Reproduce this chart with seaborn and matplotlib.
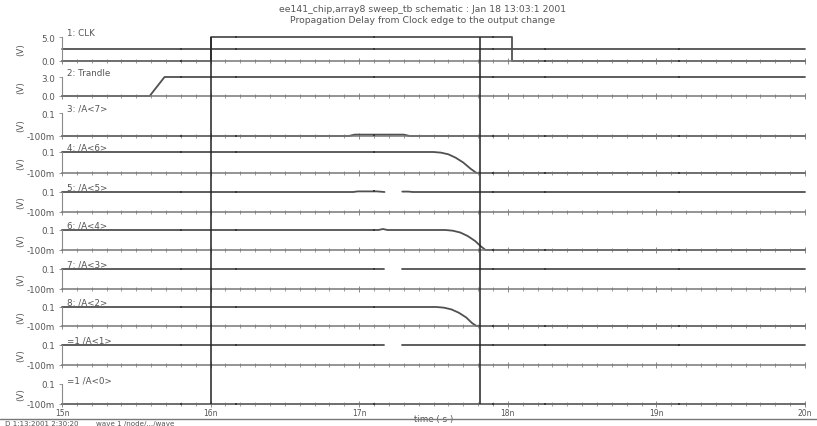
import numpy as np
import pandas as pd
import matplotlib
matplotlib.use("Agg")
import matplotlib.pyplot as plt
from matplotlib.lines import Line2D
from matplotlib.ticker import MultipleLocator, FuncFormatter
import seaborn as sns

sns.set_theme(style="white")
plt.rcParams['font.family'] = ['DejaVu Sans']

# ---- data (time in ns) ----
t_start, t_end = 15.0, 20.0
cursor_times = [16.0, 17.81]
marker_times = [15.8, 16.17, 17.1, 17.9, 18.25, 19.15]

names = ["1: CLK", "2: Trandle", "3: /A<7>", "4: /A<6>", "5: /A<5>",
         "6: /A<4>", "7: /A<3>", "8: /A<2>", "=1 /A<1>", "=1 /A<0>"]
ylo = [0.0, 0.0, -0.1, -0.1, -0.1, -0.1, -0.1, -0.1, -0.1, -0.1]
yhi = [5.0, 3.0, 0.1, 0.1, 0.1, 0.1, 0.1, 0.1, 0.1, 0.1]
ylo_lbl = ["0.0", "0.0", "-100m", "-100m", "-100m", "-100m", "-100m", "-100m", "-100m", "-100m"]
yhi_lbl = ["5.0", "3.0", "0.1", "0.1", "0.1", "0.1", "0.1", "0.1", "0.1", "0.1"]

clk_t = [15.0, 16.0, 16.0, 18.03, 18.03, 20.0]
clk_v = [0.0, 0.0, 5.0, 5.0, 0.0, 0.0]
clkref_t = [15.0, 20.0]
clkref_v = [2.5, 2.5]
trandle_t = [15.0, 15.59, 15.69, 20.0]
trandle_v = [0.0, 0.0, 3.0, 3.0]
a7_t = [15.0, 16.93, 16.97, 17.3, 17.34, 20.0]
a7_v = [-0.1, -0.1, -0.088, -0.088, -0.1, -0.1]
a6_t = [15.0, 17.5, 17.55, 17.6, 17.65, 17.7, 17.75, 17.79, 20.0]
a6_v = [0.1, 0.1, 0.094, 0.078, 0.045, 0.0, -0.06, -0.1, -0.1]
a5_t = [15.0, 16.96, 16.99, 17.12, 17.17, np.nan, 17.29, 17.33, 17.36, 20.0]
a5_v = [0.1, 0.1, 0.106, 0.106, 0.1, np.nan, 0.104, 0.104, 0.1, 0.1]
a4_t = [15.0, 17.13, 17.16, 17.19, 17.58, 17.63, 17.68, 17.73, 17.78, 17.82, 17.85, 20.0]
a4_v = [0.1, 0.1, 0.11, 0.1, 0.1, 0.093, 0.075, 0.04, -0.01, -0.065, -0.1, -0.1]
a3_t = [15.0, 17.17, np.nan, 17.29, 20.0]
a3_v = [0.1, 0.1, np.nan, 0.1, 0.1]
a2_t = [15.0, 17.52, 17.57, 17.62, 17.67, 17.72, 17.76, 17.79, 20.0]
a2_v = [0.1, 0.1, 0.093, 0.075, 0.04, -0.01, -0.07, -0.1, -0.1]
a1_t = [15.0, 17.17, np.nan, 17.29, 20.0]
a1_v = [0.1, 0.1, np.nan, 0.1, 0.1]
a0_t = [15.0, 20.0]
a0_v = [-0.1, -0.1]

traces = [[(clk_t, clk_v), (clkref_t, clkref_v)], [(trandle_t, trandle_v)],
          [(a7_t, a7_v)], [(a6_t, a6_v)], [(a5_t, a5_v)], [(a4_t, a4_v)],
          [(a3_t, a3_v)], [(a2_t, a2_v)], [(a1_t, a1_v)], [(a0_t, a0_v)]]

# strip extents in pixels (top of data, baseline)
strip_top = [38, 78, 114, 153, 193, 231, 270, 308, 346, 385]
strip_bot = [62, 97, 137, 174, 213, 251, 290, 327, 366, 405]

W, H = 817, 427
X0, X1 = 62, 805
fig = plt.figure(figsize=(W / 100, H / 100), dpi=100)

trace_col = "#505050"
axis_col = "#8a8a8a"
text_col = "#555555"
fs = 6.3


def to_frame(t, v):
    t = np.asarray(t, float)
    v = np.asarray(v, float)
    seg = np.cumsum(np.isnan(t))
    df = pd.DataFrame({"t": t, "v": v, "seg": seg}).dropna()
    return df


axes = []
for i, name in enumerate(names):
    top, bot = strip_top[i], strip_bot[i]
    ax = fig.add_axes([X0 / W, 1 - bot / H, (X1 - X0) / W, (bot - top) / H])
    ax.set_facecolor("none")
    for (t, v) in traces[i]:
        df = to_frame(t, v)
        sns.lineplot(data=df, x="t", y="v", units="seg", estimator=None, sort=False,
                     ax=ax, color=trace_col, lw=1.3, clip_on=False)
        # sampled markers on the trace
        good = df.sort_values("t")
        mv = np.interp(marker_times, good["t"], good["v"])
        sns.scatterplot(x=marker_times, y=mv, ax=ax, color="#3a3a3a", marker="s",
                        s=2.5, linewidth=0, clip_on=False, zorder=5)
    ax.set_xlim(t_start, t_end)
    ax.set_ylim(ylo[i], yhi[i])
    ax.set_yticks([ylo[i], yhi[i]])
    ax.set_yticklabels([ylo_lbl[i], yhi_lbl[i]], fontsize=fs, color=text_col)
    ax.xaxis.set_major_locator(MultipleLocator(1.0))
    ax.xaxis.set_minor_locator(MultipleLocator(0.1))
    ax.tick_params(axis="x", which="major", direction="inout", length=4, width=0.7,
                   color=axis_col, bottom=True)
    ax.tick_params(axis="x", which="minor", direction="inout", length=2.5, width=0.6,
                   color=axis_col, bottom=True)
    ax.tick_params(axis="y", direction="out", length=2, width=0.6, color=axis_col,
                   pad=3, left=True)
    for s in ["top", "right"]:
        ax.spines[s].set_visible(False)
    ax.spines["left"].set_color(axis_col)
    ax.spines["left"].set_linewidth(0.8)
    ax.spines["bottom"].set_color("#777777")
    ax.spines["bottom"].set_linewidth(1.1)
    ax.set_ylabel("(V)", fontsize=fs, color=text_col, rotation=90)
    ax.yaxis.set_label_coords(-0.05, 0.5)
    ax.set_xlabel("")
    ax.text(0.007, 1.0, name, transform=ax.transAxes, fontsize=fs, color=text_col,
            ha="left", va="bottom")
    if i < len(names) - 1:
        ax.tick_params(axis="x", labelbottom=False)
    else:
        ax.xaxis.set_major_formatter(FuncFormatter(lambda x, p: f"{x:g}n"))
        ax.tick_params(axis="x", labelsize=fs - 0.8, labelcolor=text_col, pad=1)
        ax.set_xlabel("time ( s )", fontsize=fs, color=text_col, labelpad=-2)
    axes.append(ax)

# cursor lines across all strips
ov = fig.add_axes([X0 / W, 1 - strip_bot[-1] / H, (X1 - X0) / W,
                   (strip_bot[-1] - strip_top[0]) / H])
ov.set_xlim(t_start, t_end)
ov.axis("off")
for c in cursor_times:
    ov.axvline(c, color="#222222", lw=1.1)

fig.text(0.517, 0.977, "ee141_chip,array8 sweep_tb schematic : Jan 18 13:03:1 2001",
         ha="center", va="center", fontsize=fs + 0.4, color=text_col)
fig.text(0.517, 0.952, "Propagation Delay from Clock edge to the output change",
         ha="center", va="center", fontsize=fs + 0.4, color=text_col)

fig.add_artist(Line2D([0.0, 1.0], [1 - 420 / H, 1 - 420 / H], color="#777777", lw=1.0))
fig.text(0.006, 1 - 424 / H, "D 1:13:2001 2:30:20", fontsize=fs - 1.2, color=text_col,
         ha="left", va="center")
fig.text(0.118, 1 - 424 / H, "wave 1 /node/.../wave", fontsize=fs - 1.2, color=text_col,
         ha="left", va="center")

fig.savefig("out.png", dpi=100, facecolor="white")
